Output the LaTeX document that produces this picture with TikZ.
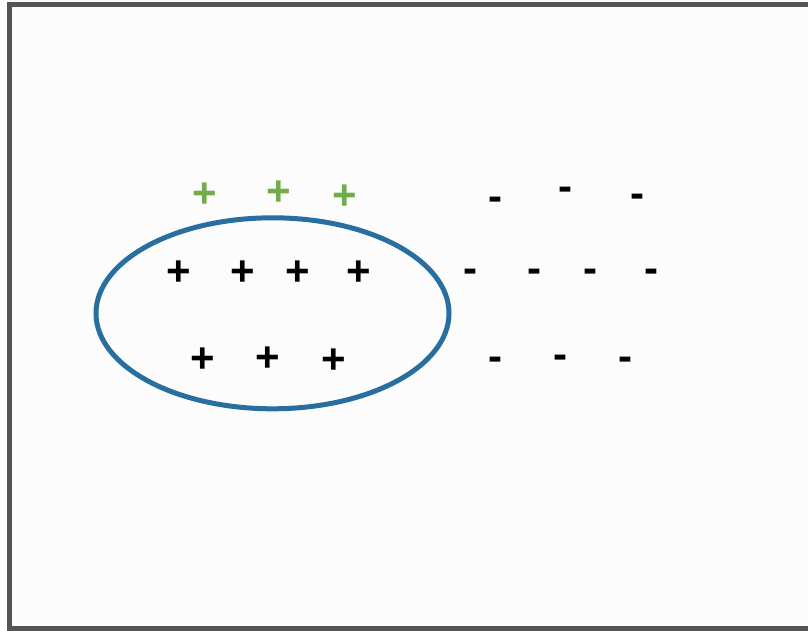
\documentclass[tikz,border=0pt]{standalone}
\usepackage{fontspec}
\setmainfont{Liberation Sans}
\definecolor{framegray}{RGB}{85,85,85}
\definecolor{bgwhite}{RGB}{252,252,252}
\definecolor{ellblue}{RGB}{40,111,160}
\definecolor{plgreen}{RGB}{112,173,71}
\begin{document}
\begin{tikzpicture}[x=1pt,y=-1pt,
  sym/.style={inner sep=0pt,anchor=base,font=\fontsize{42}{42}\selectfont\bfseries},
  pl/.style={sym,yshift=-14.1pt,xshift=0.6pt},
  mn/.style={sym,yshift=-11.6pt,xshift=0.6pt},
  gpl/.style={pl,text=plgreen}]
\useasboundingbox (0,0) rectangle (808,630);
\clip (0,0) rectangle (808,630);
\fill[bgwhite] (0,0) rectangle (808,630);
\draw[framegray,line width=5.3pt] (9.5,4.7) rectangle (820,629);
\draw[ellblue,line width=5pt] (272.5,313.3) ellipse [x radius=176.5, y radius=95.5];
% green plus signs
\node[gpl] (g1) at (204,193) {+};
\node[gpl] (g2) at (278,191) {+};
\node[gpl] (g3) at (344,195) {+};
% black plus signs
\node[pl] (p1) at (178,271) {+};
\node[pl] (p2) at (242,271) {+};
\node[pl] (p3) at (297,271) {+};
\node[pl] (p4) at (358,271) {+};
\node[pl] (p5) at (202,358) {+};
\node[pl] (p6) at (267,357) {+};
\node[pl] (p7) at (333,359) {+};
% minus signs
\node[mn] (m1) at (494.7,198.7) {-};
\node[mn] (m2) at (565,188.7) {-};
\node[mn] (m3) at (636.7,195.7) {-};
\node[mn] (m4) at (470.3,271.3) {-};
\node[mn] (m5) at (534.3,271.3) {-};
\node[mn] (m6) at (590,271.3) {-};
\node[mn] (m7) at (650.7,271.3) {-};
\node[mn] (m8) at (494.7,358.7) {-};
\node[mn] (m9) at (559.7,357.3) {-};
\node[mn] (m10) at (625.3,359.3) {-};
\end{tikzpicture}
\end{document}
